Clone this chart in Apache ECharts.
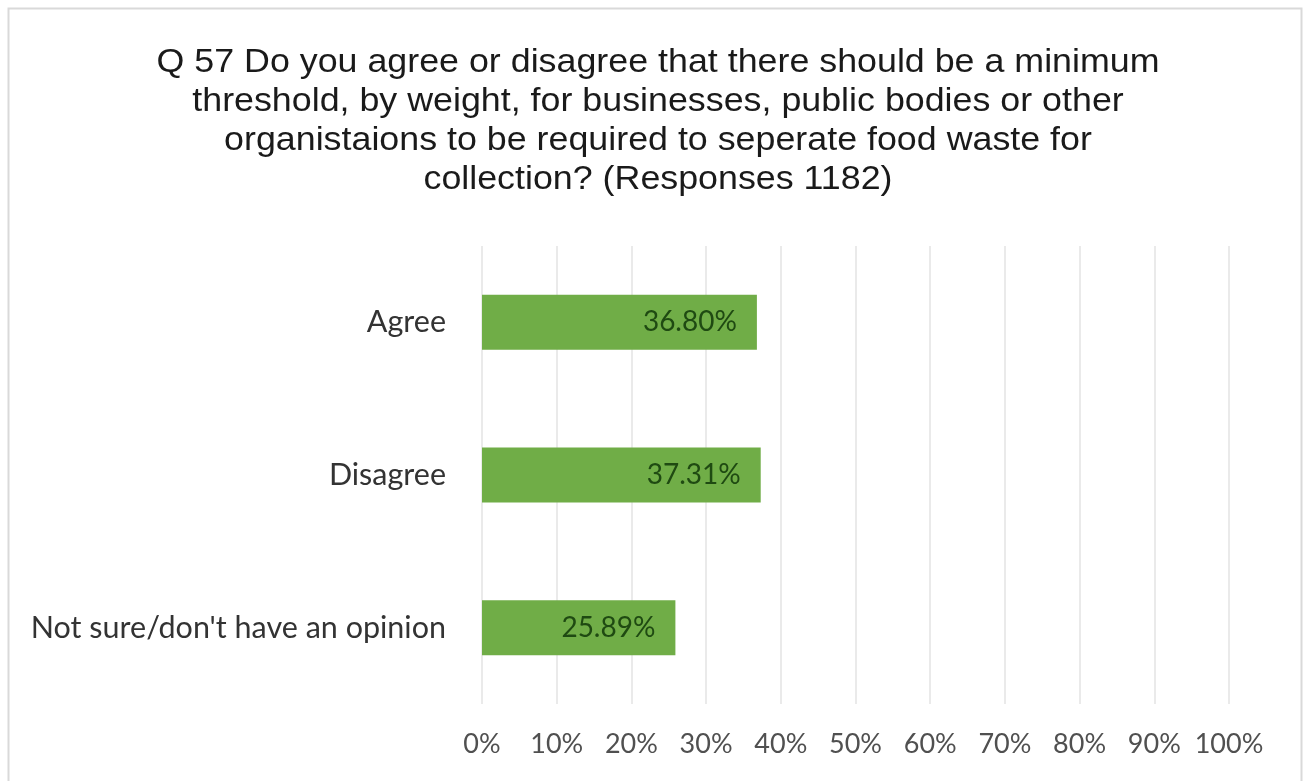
<!DOCTYPE html>
<html>
<head>
<meta charset="utf-8">
<script src="https://cdn.jsdelivr.net/npm/echarts@6/dist/echarts.min.js"></script>
<style>
  html, body { margin: 0; padding: 0; background: #ffffff; }
  #chart { width: 1305px; height: 781px; }
</style>
</head>
<body>
<div id="chart"></div>
<script>
// Survey question and answers
const titleLines = [
  'Q 57 Do you agree or disagree that there should be a minimum',
  'threshold, by weight, for businesses, public bodies or other',
  'organistaions to be required to seperate food waste for',
  'collection? (Responses 1182)'
];
const categories = ['Agree', 'Disagree', "Not sure/don't have an opinion"];
const shares = [36.80, 37.31, 25.89];
const tickLabels = ['0%', '10%', '20%', '30%', '40%', '50%', '60%', '70%', '80%', '90%', '100%'];

const labelFont = 'Lato, "Open Sans", sans-serif';

const chart = echarts.init(document.getElementById('chart'), null, { renderer: 'canvas' });

chart.setOption({
  animation: false,
  backgroundColor: '#ffffff',
  graphic: [
    {
      // chart frame
      type: 'rect',
      shape: { x: 8.5, y: 8.5, width: 1293, height: 790 },
      style: { fill: 'none', stroke: '#d9d9d9', lineWidth: 2 },
      silent: true
    },
    {
      // centred multi-line question title
      type: 'text',
      x: 658,
      y: 44,
      scaleX: 1.085,
      silent: true,
      style: {
        text: titleLines.join('\n'),
        x: 0,
        y: 0,
        align: 'center',
        verticalAlign: 'top',
        font: '33px "Liberation Sans", Arial, sans-serif',
        lineHeight: 38.7,
        fill: '#1a1a1a'
      }
    }
  ],
  grid: { left: 482, right: 76, top: 246, bottom: 77 },
  xAxis: {
    type: 'value',
    min: 0,
    max: 100,
    interval: 10,
    axisLine: { show: false },
    axisTick: { show: false },
    splitLine: { show: true, lineStyle: { color: '#e3e3e3', width: 1.5 } },
    axisLabel: {
      margin: 27,
      fontFamily: labelFont,
      fontSize: 27,
      color: '#505050',
      formatter: (v) => tickLabels[Math.round(v / 10)]
    }
  },
  yAxis: {
    type: 'category',
    inverse: true,
    data: categories,
    axisLine: { show: false },
    axisTick: { show: false },
    axisLabel: {
      margin: 36,
      fontFamily: labelFont,
      fontSize: 30.5,
      color: '#333333'
    }
  },
  series: [{
    type: 'bar',
    data: shares,
    barCategoryGap: '64%',
    itemStyle: { color: '#70ad47' },
    label: {
      show: true,
      position: 'insideRight',
      distance: 20,
      fontFamily: labelFont,
      fontSize: 28,
      color: '#1f4a12',
      formatter: (p) => p.value.toFixed(2) + '%'
    }
  }]
});
</script>
</body>
</html>
